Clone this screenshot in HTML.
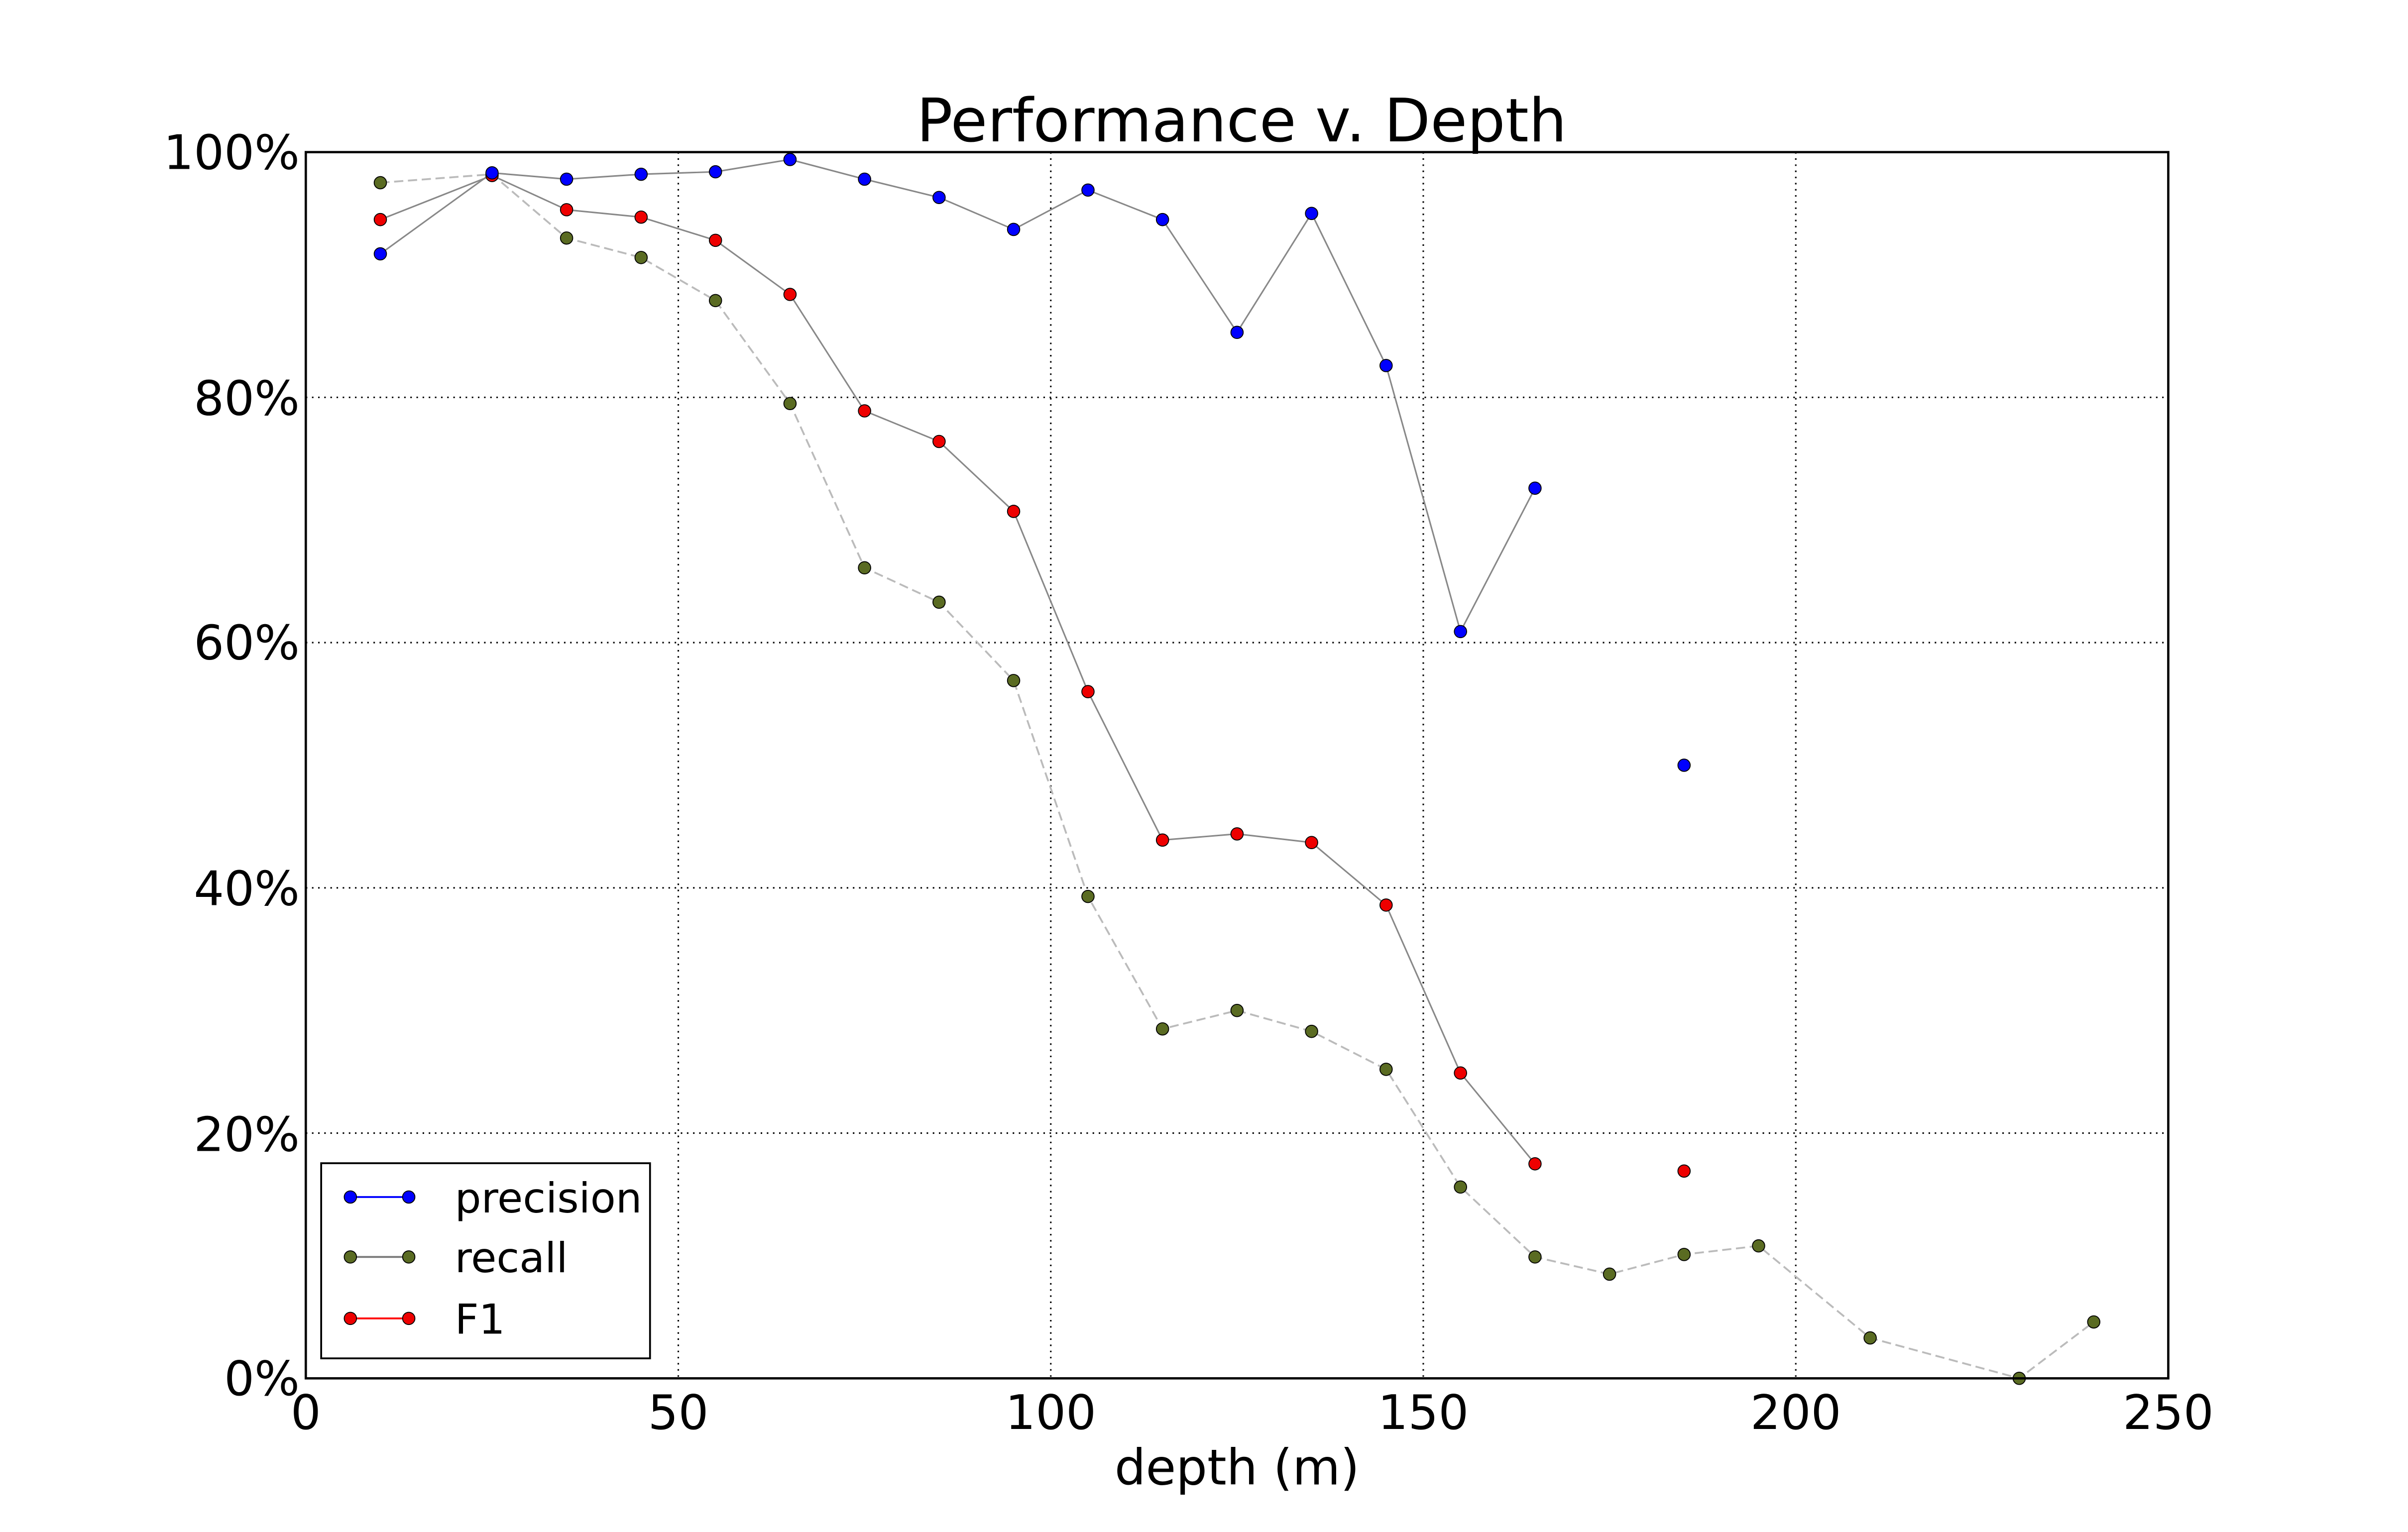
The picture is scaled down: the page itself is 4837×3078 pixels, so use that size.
<!DOCTYPE html>
<html><head><style>html,body{margin:0;padding:0;background:#fff}svg{display:block}</style></head>
<body>
<svg width="4837" height="3078" viewBox="0 0 1567 997" preserveAspectRatio="none" xmlns="http://www.w3.org/2000/svg" font-family="DejaVu Sans, Liberation Sans, sans-serif">
<rect width="1567" height="997" fill="#fff"/>
<g stroke="#000" stroke-width="1" stroke-dasharray="1,3">
<line x1="441.4" y1="99" x2="441.4" y2="897"/><line x1="683.8" y1="99" x2="683.8" y2="897"/><line x1="926.2" y1="99" x2="926.2" y2="897"/><line x1="1168.6" y1="99" x2="1168.6" y2="897"/>
<line x1="199" y1="737.4" x2="1411" y2="737.4"/><line x1="199" y1="577.8" x2="1411" y2="577.8"/><line x1="199" y1="418.2" x2="1411" y2="418.2"/><line x1="199" y1="258.6" x2="1411" y2="258.6"/>
</g>
<polyline fill="none" stroke="#bbb" stroke-width="1.2" stroke-dasharray="6,3" points="247.5,118.9 320.2,113.4 368.7,154.9 417.2,167.6 465.6,195.6 514.1,262.6 562.6,369.5 611.1,391.9 659.6,442.9 708,583.4 756.5,669.6 805,657.6 853.5,671.2 902,695.9 950.4,772.5 998.9,818 1047.4,829.2 1095.9,816.4 1144.4,810.8 1217,870.7 1314,897 1362.5,860.3"/>
<polyline fill="none" stroke="#888" stroke-width="1" points="247.5,142.9 320.2,114.2 368.7,136.5 417.2,141.3 465.6,156.4 514.1,191.6 562.6,267.4 611.1,287.3 659.6,332.8 708,450.1 756.5,546.7 805,542.7 853.5,548.3 902,589 950.4,698.3 998.9,757.4"/>
<polyline fill="none" stroke="#888" stroke-width="1" points="247.5,165.2 320.2,112.5 368.7,116.6 417.2,113.4 465.6,111.8 514.1,103.8 562.6,116.6 611.1,128.5 659.6,149.3 708,123.7 756.5,142.9 805,216.3 853.5,138.9 902,237.9 950.4,411 998.9,317.7"/>
<g fill="#5a6b22" stroke="#000" stroke-width="0.6">
<circle cx="247.5" cy="118.9" r="4"/><circle cx="320.2" cy="113.4" r="4"/><circle cx="368.7" cy="154.9" r="4"/><circle cx="417.2" cy="167.6" r="4"/><circle cx="465.6" cy="195.6" r="4"/><circle cx="514.1" cy="262.6" r="4"/><circle cx="562.6" cy="369.5" r="4"/><circle cx="611.1" cy="391.9" r="4"/><circle cx="659.6" cy="442.9" r="4"/><circle cx="708" cy="583.4" r="4"/><circle cx="756.5" cy="669.6" r="4"/><circle cx="805" cy="657.6" r="4"/><circle cx="853.5" cy="671.2" r="4"/><circle cx="902" cy="695.9" r="4"/><circle cx="950.4" cy="772.5" r="4"/><circle cx="998.9" cy="818" r="4"/><circle cx="1047.4" cy="829.2" r="4"/><circle cx="1095.9" cy="816.4" r="4"/><circle cx="1144.4" cy="810.8" r="4"/><circle cx="1217" cy="870.7" r="4"/><circle cx="1314" cy="897" r="4"/><circle cx="1362.5" cy="860.3" r="4"/>
</g>
<g fill="#e00" stroke="#000" stroke-width="0.6">
<circle cx="247.5" cy="142.9" r="4"/><circle cx="320.2" cy="114.2" r="4"/><circle cx="368.7" cy="136.5" r="4"/><circle cx="417.2" cy="141.3" r="4"/><circle cx="465.6" cy="156.4" r="4"/><circle cx="514.1" cy="191.6" r="4"/><circle cx="562.6" cy="267.4" r="4"/><circle cx="611.1" cy="287.3" r="4"/><circle cx="659.6" cy="332.8" r="4"/><circle cx="708" cy="450.1" r="4"/><circle cx="756.5" cy="546.7" r="4"/><circle cx="805" cy="542.7" r="4"/><circle cx="853.5" cy="548.3" r="4"/><circle cx="902" cy="589" r="4"/><circle cx="950.4" cy="698.3" r="4"/><circle cx="998.9" cy="757.4" r="4"/><circle cx="1095.9" cy="762.1" r="4"/>
</g>
<g fill="#00f" stroke="#000" stroke-width="0.6">
<circle cx="247.5" cy="165.2" r="4"/><circle cx="320.2" cy="112.5" r="4"/><circle cx="368.7" cy="116.6" r="4"/><circle cx="417.2" cy="113.4" r="4"/><circle cx="465.6" cy="111.8" r="4"/><circle cx="514.1" cy="103.8" r="4"/><circle cx="562.6" cy="116.6" r="4"/><circle cx="611.1" cy="128.5" r="4"/><circle cx="659.6" cy="149.3" r="4"/><circle cx="708" cy="123.7" r="4"/><circle cx="756.5" cy="142.9" r="4"/><circle cx="805" cy="216.3" r="4"/><circle cx="853.5" cy="138.9" r="4"/><circle cx="902" cy="237.9" r="4"/><circle cx="950.4" cy="411" r="4"/><circle cx="998.9" cy="317.7" r="4"/><circle cx="1095.9" cy="498" r="4"/>
</g>
<rect x="199" y="99" width="1212" height="798" fill="none" stroke="#000" stroke-width="1.5"/>
<text x="808" y="92" font-size="39" text-anchor="middle">Performance v. Depth</text>
<g font-size="31" text-anchor="end">
<text x="195" y="110">100%</text><text x="195" y="270">80%</text><text x="195" y="429">60%</text><text x="195" y="589">40%</text><text x="195" y="749">20%</text><text x="195" y="908">0%</text>
</g>
<g font-size="31" text-anchor="middle">
<text x="199" y="930">0</text><text x="441.4" y="930">50</text><text x="683.8" y="930">100</text><text x="926.2" y="930">150</text><text x="1168.6" y="930">200</text><text x="1411" y="930">250</text>
</g>
<text x="805" y="966" font-size="32" text-anchor="middle">depth (m)</text>
<rect x="209" y="757" width="214" height="127" fill="#fff" stroke="#000" stroke-width="1.2"/>
<line x1="228" y1="779" x2="266" y2="779" stroke="#00f" stroke-width="1.2"/>
<circle cx="228" cy="779" r="4" fill="#00f" stroke="#000" stroke-width="0.6"/><circle cx="266" cy="779" r="4" fill="#00f" stroke="#000" stroke-width="0.6"/>
<line x1="228" y1="818" x2="266" y2="818" stroke="#777" stroke-width="1.2"/>
<circle cx="228" cy="818" r="4" fill="#5a6b22" stroke="#000" stroke-width="0.6"/><circle cx="266" cy="818" r="4" fill="#5a6b22" stroke="#000" stroke-width="0.6"/>
<line x1="228" y1="858" x2="266" y2="858" stroke="#f00" stroke-width="1.2"/>
<circle cx="228" cy="858" r="4" fill="#e00" stroke="#000" stroke-width="0.6"/><circle cx="266" cy="858" r="4" fill="#e00" stroke="#000" stroke-width="0.6"/>
<g font-size="27"><text x="296" y="789">precision</text><text x="296" y="828">recall</text><text x="296" y="868">F1</text></g>
</svg>
</body></html>
